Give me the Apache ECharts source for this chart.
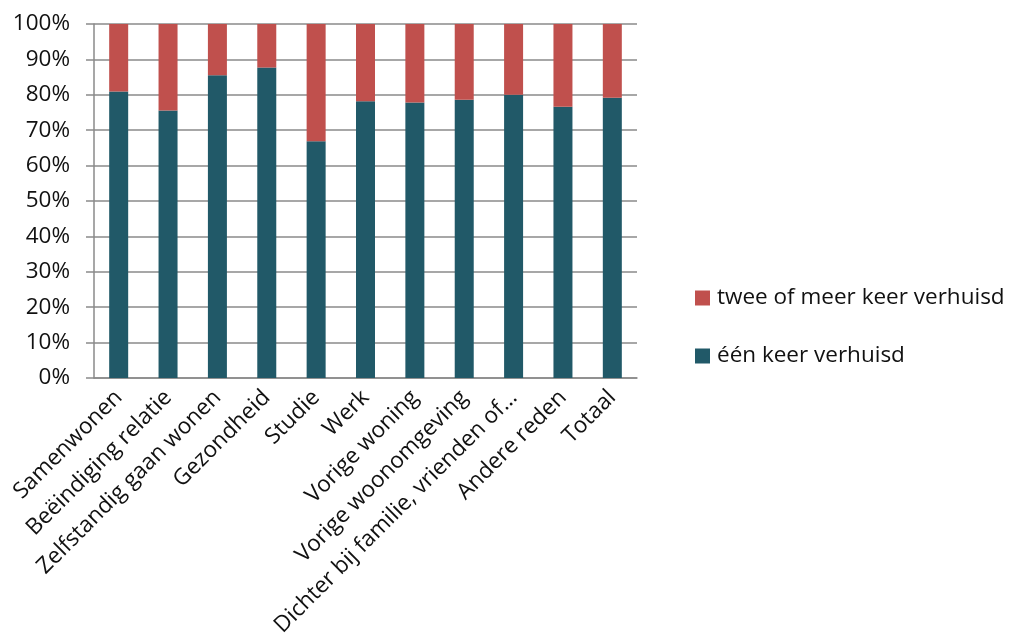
<!DOCTYPE html>
<html>
<head>
<meta charset="utf-8">
<script src="https://cdn.jsdelivr.net/npm/echarts@6/dist/echarts.min.js"></script>
<style>
  html, body { margin: 0; padding: 0; background: #ffffff; }
  #chart { width: 1017px; height: 642px; }
</style>
</head>
<body>
<div id="chart"></div>
<script>
// Redenen van verhuizing
var categories = [
  'Samenwonen',
  'Beëindiging relatie',
  'Zelfstandig gaan wonen',
  'Gezondheid',
  'Studie',
  'Werk',
  'Vorige woning',
  'Vorige woonomgeving',
  'Dichter bij familie, vrienden of…',
  'Andere reden',
  'Totaal'
];

// Aandeel (%) één keer verhuisd
var eenKeer = [80.9, 75.6, 85.5, 87.7, 66.9, 78.2, 77.8, 78.6, 80.0, 76.6, 79.2];
// Aandeel (%) twee of meer keer verhuisd
var tweeOfMeer = [19.1, 24.4, 14.5, 12.3, 33.1, 21.8, 22.2, 21.4, 20.0, 23.4, 20.8];

var yTicks = [0, 10, 20, 30, 40, 50, 60, 70, 80, 90, 100];

var FONT = '"Open Sans", "Noto Sans", sans-serif';
var FONT_SIZE = 22.5;
var TEXT_COLOR = '#111111';
var GRID_COLOR = '#8a8a8a';

var chart = echarts.init(document.getElementById('chart'), null, { renderer: 'canvas' });

chart.setOption({
  animation: false,
  backgroundColor: '#ffffff',
  textStyle: { fontFamily: FONT },
  grid: { left: 94, right: 380, top: 24, bottom: 264, containLabel: false },
  legend: {
    orient: 'vertical',
    left: 690,
    top: 281,
    itemWidth: 15,
    itemHeight: 15,
    itemGap: 34,
    icon: 'rect',
    data: ['twee of meer keer verhuisd', 'één keer verhuisd'],
    textStyle: {
      fontFamily: FONT,
      fontSize: FONT_SIZE,
      lineHeight: 24,
      color: TEXT_COLOR,
      padding: [0, 0, 0, 2]
    }
  },
  xAxis: {
    type: 'category',
    data: categories,
    axisLine: { show: true, lineStyle: { color: GRID_COLOR, width: 1.5 } },
    axisTick: { show: false },
    axisLabel: {
      rotate: 45,
      margin: 16,
      interval: 0,
      fontFamily: FONT,
      fontSize: FONT_SIZE,
      color: TEXT_COLOR
    }
  },
  yAxis: {
    type: 'value',
    min: 0,
    max: 100,
    interval: 10,
    axisLine: { show: true, lineStyle: { color: GRID_COLOR, width: 1.5 } },
    axisTick: { show: true, length: 8, lineStyle: { color: GRID_COLOR, width: 1.5 } },
    splitLine: { show: true, lineStyle: { color: GRID_COLOR, width: 1.5 } },
    axisLabel: {
      margin: 24,
      fontFamily: FONT,
      fontSize: FONT_SIZE,
      color: TEXT_COLOR,
      customValues: yTicks,
      formatter: function (v) { return v + '%'; }
    }
  },
  series: [
    {
      name: 'één keer verhuisd',
      type: 'bar',
      stack: 'totaal',
      barWidth: 19,
      data: eenKeer,
      itemStyle: { color: '#215968' }
    },
    {
      name: 'twee of meer keer verhuisd',
      type: 'bar',
      stack: 'totaal',
      barWidth: 19,
      data: tweeOfMeer,
      itemStyle: { color: '#C0504D' }
    }
  ]
});
</script>
</body>
</html>
